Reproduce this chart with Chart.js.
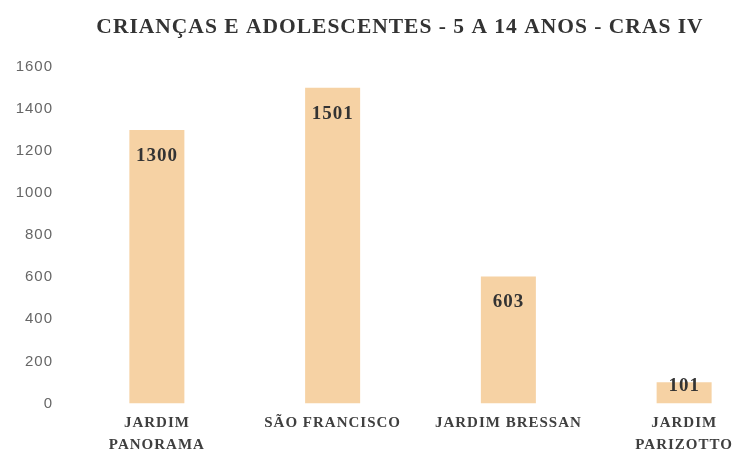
<!DOCTYPE html>
<html>
<head>
<meta charset="utf-8">
<script src="https://cdn.jsdelivr.net/npm/chart.js@4/dist/chart.umd.min.js"></script>
<style>
  html, body { margin: 0; padding: 0; background: #fff; overflow: hidden; }
  #wrap { width: 800px; height: 455px; }
</style>
</head>
<body>
<div id="wrap"><canvas id="c" width="800" height="455"></canvas></div>
<script>
const categories = [["JARDIM", "PANORAMA"], "SÃO FRANCISCO", "JARDIM BRESSAN", ["JARDIM", "PARIZOTTO"]];
const values = [1300, 1501, 603, 101];
const yTicks = [0, 200, 400, 600, 800, 1000, 1200, 1400, 1600];
const titleText = "CRIANÇAS E ADOLESCENTES - 5 A 14 ANOS - CRAS IV";

const spacingPlugin = {
  id: 'spacing',
  beforeLayout(chart) { chart.ctx.letterSpacing = '1px'; },
  beforeDraw(chart) { chart.ctx.letterSpacing = '1px'; }
};

const labelPlugin = {
  id: 'barLabels',
  afterDatasetsDraw(chart) {
    const ctx = chart.ctx;
    const meta = chart.getDatasetMeta(0);
    ctx.save();
    ctx.letterSpacing = '1px';
    ctx.font = 'bold 19px "Liberation Serif", serif';
    ctx.fillStyle = '#333333';
    ctx.textAlign = 'center';
    ctx.textBaseline = 'middle';
    meta.data.forEach((bar, i) => {
      const h = bar.base - bar.y;
      const y = bar.y + Math.min(26, h * 0.2);
      ctx.fillText(String(values[i]), bar.x, y);
    });
    ctx.restore();
  }
};

new Chart(document.getElementById('c'), {
  type: 'bar',
  data: {
    labels: categories,
    datasets: [{
      data: values,
      backgroundColor: 'rgb(246,210,164)',
      borderWidth: 0,
      barPercentage: 0.313,
      categoryPercentage: 1
    }]
  },
  options: {
    responsive: false,
    animation: false,
    layout: { padding: { left: 14, right: 14, top: 0, bottom: -10 } },
    plugins: {
      legend: { display: false },
      tooltip: { enabled: false },
      title: {
        display: true,
        text: titleText,
        color: '#333333',
        font: { family: '"Liberation Serif", serif', size: 21.5, weight: 'bold' },
        padding: { top: 15, bottom: 26 }
      }
    },
    scales: {
      x: {
        grid: { display: false, drawTicks: false },
        border: { display: false },
        ticks: {
          color: '#3f3f3f',
          font: { family: '"Liberation Serif", serif', size: 15, weight: 'bold', lineHeight: 1.45 },
          padding: 9,
          maxRotation: 0,
          autoSkip: false
        }
      },
      y: {
        min: 0,
        max: 1600,
        afterBuildTicks(scale) { scale.ticks = yTicks.map(v => ({ value: v })); },
        afterFit(scale) { scale.width = 55; },
        grid: { display: false, drawTicks: false },
        border: { display: false },
        ticks: {
          color: '#666666',
          font: { family: '"Liberation Sans", sans-serif', size: 15 },
          padding: 16,
          callback: (v) => String(v)
        }
      },
      yRight: {
        position: 'right',
        display: true,
        min: 0,
        max: 1600,
        afterFit(scale) { scale.width = 14; },
        grid: { display: false, drawTicks: false },
        border: { display: false },
        ticks: { display: false }
      }
    }
  },
  plugins: [spacingPlugin, labelPlugin]
});
</script>
</body>
</html>
